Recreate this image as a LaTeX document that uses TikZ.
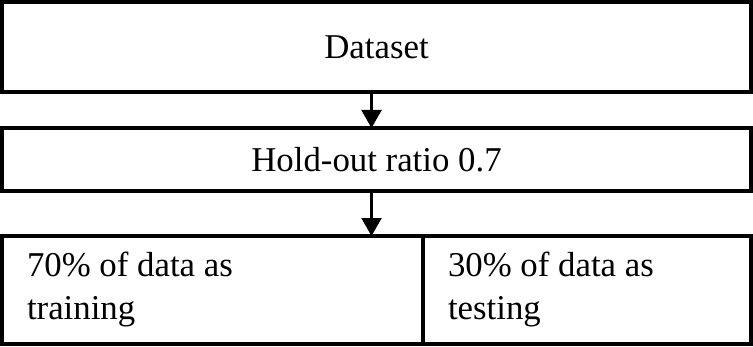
\documentclass[tikz,border=0pt]{standalone}
\usepackage{fontspec}
\setmainfont{Liberation Serif}
\usetikzlibrary{positioning,arrows.meta}

\begin{document}
\begin{tikzpicture}[font=\fontsize{17.4}{21.5}\selectfont,
  >={Triangle[length=9pt,width=10pt]},
  box/.style={draw,line width=1.6pt,outer sep=0pt,inner sep=0pt,align=center},
  sbox/.style={box,align=flush left,inner xsep=12.5pt,minimum height=54pt}]
 \useasboundingbox (0,0) rectangle (376.5pt,-173.5pt);
 \node[box,minimum width=374.5pt,minimum height=45pt] (data) at (188.25pt,-23.5pt) {Dataset};
 \node[box,minimum width=374.5pt,minimum height=31.5pt,below=18pt of data] (hold) {Hold-out ratio 0.7};
 \node[sbox,text width=185.5pt,below right=22.5pt and 0pt of hold.south west] (train) {70\% of data as\\training};
 \node[sbox,text width=139pt,right=0pt of train] (test) {30\% of data as\\testing};
 \draw[->,line width=1.1pt]([xshift=-2.5pt]data.south)--([xshift=-2.5pt]hold.north);
 \draw[->,line width=1.1pt]([xshift=-2.5pt]hold.south)--([xshift=-2.5pt]hold.south|-train.north);
\end{tikzpicture}
\end{document}
